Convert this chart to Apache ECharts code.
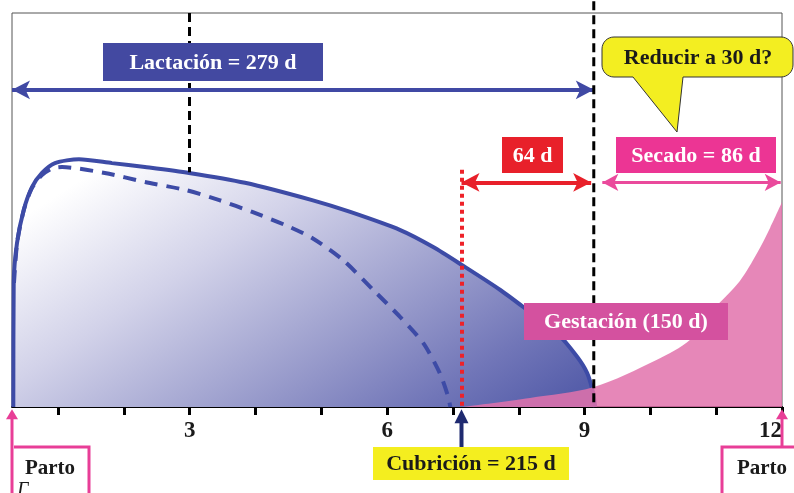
<!DOCTYPE html>
<html><head><meta charset="utf-8">
<script src="https://cdn.jsdelivr.net/npm/echarts@6/dist/echarts.min.js"></script>
<style>html,body{margin:0;padding:0;background:#fff}#c{width:794px;height:493px}</style>
</head><body><div id="c"></div>
<script>
// ---- axis ----
const X_MIN = 0.3, X_MAX = 12;
const tickMonths = [1,2,3,4,5,6,7,8,9,10,11,12];
const labelMonths = [3,6,9,12];

// ---- lactation curve (solid, months / relative yield) ----
const lactX = [0.32,0.326,0.376,0.478,0.604,0.756,0.953,1.318,1.82,2.32,2.99,3.84,4.86,5.44,6.2,6.7,7.14,7.72,8.13,8.58,8.89,9.04,9.13,9.16];
const lactY = [0,31.5,41.6,50,55.8,59.4,61.9,62.9,61.9,60.9,59.4,56.9,52.5,49.5,44.9,40.6,36,29.7,24.6,18.8,12.7,8.6,3.6,0];

// ---- shortened lactation (dashed) ----
const shortX = [0.33,0.38,0.48,0.6,0.75,0.92,1.06,1.71,2.32,2.93,3.45,3.95,4.45,4.86,5.33,5.79,6.2,6.55,6.8,6.93,6.96];
const shortY = [31.5,42,50,55.5,58.8,60.6,60.9,59.4,57.1,55.1,52.5,49.5,46.2,42.9,37.3,29.7,22.8,16.2,8.6,2.5,0];

// ---- gestation curve ----
const gestX = [7.14,8.17,9.13,10.1,10.6,10.95,11.36,11.62,11.82,12];
const gestY = [0,2.3,5,12,17,24.6,32,39,45.5,52];

// ---- events (months) ----
const mCubricion = 7.13, mSecado = 9.14, mParto = 12, mRef = 3;
const yLactArrow = 80.5, yPhaseArrow = 57;

const zip = (a,b) => a.map((v,i)=>[v,b[i]]);
const FONT = '"Liberation Serif","Times New Roman",serif';
const chart = echarts.init(document.getElementById('c'), null, {renderer:'canvas'});

function ml(from, to, color, width, type, sym, symSize){
  return [{coord:from, symbol:sym[0], symbolSize:symSize,
           lineStyle:{color:color,width:width,type:type}},
          {coord:to, symbol:sym[1], symbolSize:symSize}];
}

const option = {
  animation:false,
  grid:{left:12,right:12,top:13,bottom:86,show:true,borderColor:'#555',borderWidth:1},
  xAxis:{type:'value',min:X_MIN,max:X_MAX,
    axisLine:{onZero:false,lineStyle:{color:'#000',width:2}},
    axisTick:{customValues:tickMonths,length:8,lineStyle:{color:'#000',width:3}},
    axisLabel:{customValues:labelMonths,alignMaxLabel:'right',fontFamily:FONT,fontWeight:'bold',fontSize:23,color:'#1a1a1a',margin:13},
    splitLine:{show:false}},
  yAxis:{type:'value',min:0,max:100,show:false},
  series:[
    {type:'line',data:zip(lactX,lactY),smooth:0.25,symbol:'none',z:2,
     lineStyle:{color:'#3d4ba6',width:4},
     areaStyle:{color:new echarts.graphic.LinearGradient(105,164,346,538,[
       {offset:0,color:'#ffffff'},{offset:0.3,color:'#d2d2e9'},
       {offset:0.66,color:'#9295c8'},{offset:0.84,color:'#7176b8'},{offset:1,color:'#565eaa'}],true),opacity:1}},
    {type:'line',data:zip(shortX,shortY),smooth:0.25,symbol:'none',z:3,
     lineStyle:{color:'#3d4ba6',width:4,type:[13,9]}},
    {type:'line',data:zip(gestX,gestY),smooth:0.3,symbol:'none',z:4,
     lineStyle:{width:0},areaStyle:{color:'#e272ac',opacity:0.85}},
    {type:'line',data:[],z:6,
     markLine:{silent:true,animation:false,label:{show:false},
       data:[
         ml([mRef,100],[mRef,59.6],'#000',3,[9,5],['none','none'],0),
         ml([mCubricion,60.2],[mCubricion,0],'#ee2229',4,[4,4],['none','none'],0),
         ml([X_MIN,yLactArrow],[mSecado,yLactArrow],'#4049a4',4,'solid',['arrow','arrow'],[14,18]),
         ml([mCubricion,yPhaseArrow],[mSecado-0.04,yPhaseArrow],'#e8202a',4,'solid',['arrow','arrow'],[14,18]),
         ml([mSecado+0.13,yPhaseArrow],[mParto-0.02,yPhaseArrow],'#ea4a9c',3,'solid',['arrow','arrow'],[13,16])
       ]}}
  ]
};
chart.setOption(option);

const P = (m,v) => chart.convertToPixel({gridIndex:0},[m,v]);
const g = [];
function vline(m, v1, v2, color, width, dash, z){
  const a = P(m,v1), b = P(m,v2);
  g.push({type:'line',z:z||50,shape:{x1:a[0],y1:a[1],x2:b[0],y2:b[1]},
    style:{stroke:color,lineWidth:width,lineDash:dash||null}});
}
function upArrow(m, vFrom, vTo, color, width, hw, hl){
  const a = P(m,vFrom), b = P(m,vTo);
  g.push({type:'line',z:60,shape:{x1:a[0],y1:a[1],x2:b[0],y2:b[1]+hl-1},style:{stroke:color,lineWidth:width}});
  g.push({type:'polygon',z:60,shape:{points:[[b[0],b[1]],[b[0]-hw/2,b[1]+hl],[b[0]+hw/2,b[1]+hl]]},style:{fill:color}});
}
// dry-off dashed line (extends above the frame)
vline(mSecado, 103, 0, '#000', 3, [9,5], 50);
// cubrición & parto arrows below the axis
upArrow(mCubricion, -10.5, -0.6, '#1f2a70', 4, 14, 14);
upArrow(X_MIN, -23, -0.6, '#e83e97', 3, 12, 10);
upArrow(mParto, -10, -0.6, '#e83e97', 3, 12, 10);

// ---- annotations ----
const boxes = [
  {x:103,y:43,w:220,h:38,fill:'#4349a1',text:'Lactación = 279 d',color:'#fff'},
  {x:502,y:137,w:61,h:36,fill:'#e8202a',text:'64 d',color:'#fff'},
  {x:616,y:137,w:160,h:36,fill:'#ec3594',text:'Secado = 86 d',color:'#fff'},
  {x:524,y:303,w:204,h:37,fill:'#d4519f',text:'Gestación (150 d)',color:'#fff'},
  {x:373,y:447,w:196,h:33,fill:'#f4ee1f',text:'Cubrición = 215 d',color:'#1a1a1a'}
];
boxes.forEach(b=>{
  g.push({type:'rect',z:100,shape:{x:b.x,y:b.y,width:b.w,height:b.h},style:{fill:b.fill}});
  g.push({type:'text',z:101,style:{x:b.x+b.w/2,y:b.y+b.h/2+1,text:b.text,fill:b.color,
    font:'bold 22px '+FONT,align:'center',verticalAlign:'middle'}});
});
// callout bubble
(function(){
  const x1=602,y1=37,x2=793,y2=77,r=12,pts=[];
  const arc=(cx,cy,a0,a1)=>{for(let i=0;i<=8;i++){const a=a0+(a1-a0)*i/8;pts.push([cx+r*Math.cos(a),cy+r*Math.sin(a)]);}};
  arc(x1+r,y1+r,Math.PI,1.5*Math.PI);
  arc(x2-r,y1+r,1.5*Math.PI,2*Math.PI);
  arc(x2-r,y2-r,0,0.5*Math.PI);
  pts.push([683,y2],[677,132],[633,y2]);
  arc(x1+r,y2-r,0.5*Math.PI,Math.PI);
  g.push({type:'polygon',z:100,shape:{points:pts},style:{fill:'#f3ee21',stroke:'#333',lineWidth:1}});
  g.push({type:'text',z:101,style:{x:698,y:58,text:'Reducir a 30 d?',fill:'#1a1a1a',font:'bold 22px '+FONT,align:'center',verticalAlign:'middle'}});
})();
g.push({type:'polyline',z:100,shape:{points:[[14,447],[89,447],[89,493]]},style:{stroke:'#e83e97',lineWidth:3,fill:null}});
g.push({type:'polyline',z:100,shape:{points:[[794,447],[722,447],[722,493]]},style:{stroke:'#e83e97',lineWidth:3,fill:null}});
g.push({type:'text',z:101,style:{x:50,y:469,text:'Parto',fill:'#1a1a1a',font:'bold 21px '+FONT,align:'center',verticalAlign:'middle'}});
g.push({type:'text',z:101,style:{x:762,y:469,text:'Parto',fill:'#1a1a1a',font:'bold 21px '+FONT,align:'center',verticalAlign:'middle'}});
g.push({type:'text',z:101,style:{x:17,y:481,text:'Γ',fill:'#1a1a1a',font:'italic 20px '+FONT}});
chart.setOption({graphic:g});
</script></body></html>
